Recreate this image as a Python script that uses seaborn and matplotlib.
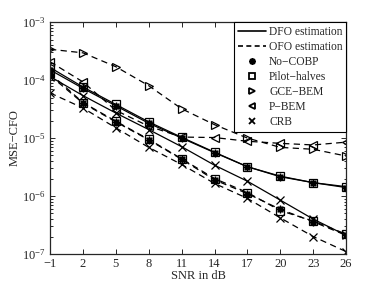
import numpy as np
import pandas as pd
import seaborn as sns
import matplotlib
matplotlib.use("Agg")
import matplotlib.pyplot as plt
from matplotlib.lines import Line2D

# %% data
snr = [-1, 2, 5, 8, 11, 14, 17, 20, 23, 26]

dfo_nocobp = [1.5e-4, 7.2e-5, 3.6e-5, 1.8e-5, 1.0e-5, 5.6e-6, 3.2e-6, 2.15e-6, 1.7e-6, 1.4e-6]
dfo_pilot = [1.65e-4, 7.6e-5, 3.8e-5, 1.9e-5, 1.03e-5, 5.7e-6, 3.2e-6, 2.2e-6, 1.7e-6, 1.45e-6]
dfo_crb = [1.15e-4, 5.4e-5, 2.7e-5, 1.4e-5, 7.1e-6, 3.4e-6, 1.8e-6, 8.5e-7, 4.0e-7, 2.1e-7]

ofo_nocobp = [1.2e-4, 4.0e-5, 1.9e-5, 9.3e-6, 4.3e-6, 1.9e-6, 1.1e-6, 5.9e-7, 3.6e-7, 2.1e-7]
ofo_pilot = [1.3e-4, 4.1e-5, 1.95e-5, 9.5e-6, 4.4e-6, 2.0e-6, 1.15e-6, 5.6e-7, 3.7e-7, 2.2e-7]
ofo_gce = [3.4e-4, 2.95e-4, 1.7e-4, 8.0e-5, 3.2e-5, 1.7e-5, 1.0e-5, 6.9e-6, 6.4e-6, 4.9e-6]
ofo_pbem = [2.07e-4, 9.3e-5, 3.0e-5, 1.6e-5, 1.04e-5, 1.02e-5, 8.8e-6, 8.1e-6, 7.6e-6, 8.5e-6]
ofo_crb = [6.0e-5, 3.3e-5, 1.5e-5, 6.9e-6, 3.5e-6, 1.65e-6, 9.1e-7, 4.2e-7, 2.0e-7, 1.1e-7]

series = [
    ("DFO", "No-COBP", dfo_nocobp),
    ("DFO", "Pilot-halves", dfo_pilot),
    ("DFO", "CRB", dfo_crb),
    ("OFO", "No-COBP", ofo_nocobp),
    ("OFO", "Pilot-halves", ofo_pilot),
    ("OFO", "GCE-BEM", ofo_gce),
    ("OFO", "P-BEM", ofo_pbem),
    ("OFO", "CRB", ofo_crb),
]

rows = []
for est, meth, vals in series:
    for s, v in zip(snr, vals):
        rows.append({"est": est, "method": meth, "SNR": s, "MSE": v})
df = pd.DataFrame(rows)

markers = {"No-COBP": (8, 1, 0), "Pilot-halves": "s", "GCE-BEM": ">",
           "P-BEM": "<", "CRB": "x"}
filled = {"No-COBP": True}
dashes = {"DFO": "-", "OFO": (0, (5, 3.5))}

# %% plot
sns.set_style("ticks")
plt.rcParams["font.family"] = ["Liberation Serif", "DejaVu Serif"]
plt.rcParams["mathtext.fontset"] = "stix"

fig = plt.figure(figsize=(3.82, 2.87), dpi=100)
ax = fig.add_axes([0.131, 0.115, 0.775, 0.808])

for (est, meth), sub in df.groupby(["est", "method"], sort=False):
    sns.lineplot(data=sub, x="SNR", y="MSE", ax=ax, color="black",
                 linestyle=dashes[est], linewidth=0.9, marker=markers[meth],
                 markersize=5.5, markeredgecolor="black", markeredgewidth=0.9,
                 markerfacecolor="black" if filled.get(meth) else "none",
                 legend=False)

ax.set_yscale("log")
ax.set_xlim(-1, 26)
ax.set_ylim(1e-7, 1e-3)
ax.set_xticks(snr)
ax.set_xlabel("SNR in dB", fontsize=9, labelpad=0)
ax.set_ylabel("MSE\u2212CFO", fontsize=9, labelpad=1)
ax.tick_params(direction="in", which="both", top=True, right=True,
               labelsize=9, pad=3, width=0.7)
ax.tick_params(which="major", length=3.5)
ax.tick_params(which="minor", length=1.8)
for sp in ax.spines.values():
    sp.set_linewidth(0.9)
    sp.set_visible(True)
ax.set_xticklabels([f"\u2212{abs(s)}" if s < 0 else str(s) for s in snr])

handles = [
    Line2D([], [], color="black", linestyle="-", linewidth=1.2, label="DFO estimation"),
    Line2D([], [], color="black", linestyle=(0, (3, 2)), linewidth=1.2, label="OFO estimation"),
]
for meth in ["No-COBP", "Pilot-halves", "GCE-BEM", "P-BEM", "CRB"]:
    handles.append(Line2D([], [], color="black", linestyle="none",
                          marker=markers[meth], markersize=4.5,
                          markerfacecolor="black" if filled.get(meth) else "none",
                          markeredgewidth=1.3,
                          label=meth.replace("-", "\u2212")))
leg = ax.legend(handles=handles, loc="upper right", fontsize=8.3, frameon=True,
                fancybox=False, edgecolor="black", framealpha=1,
                borderaxespad=0, handlelength=2.4, labelspacing=0.27,
                borderpad=0.3, handletextpad=0.3)
leg.get_frame().set_linewidth(0.8)

fig.savefig("out.png", dpi=100)
